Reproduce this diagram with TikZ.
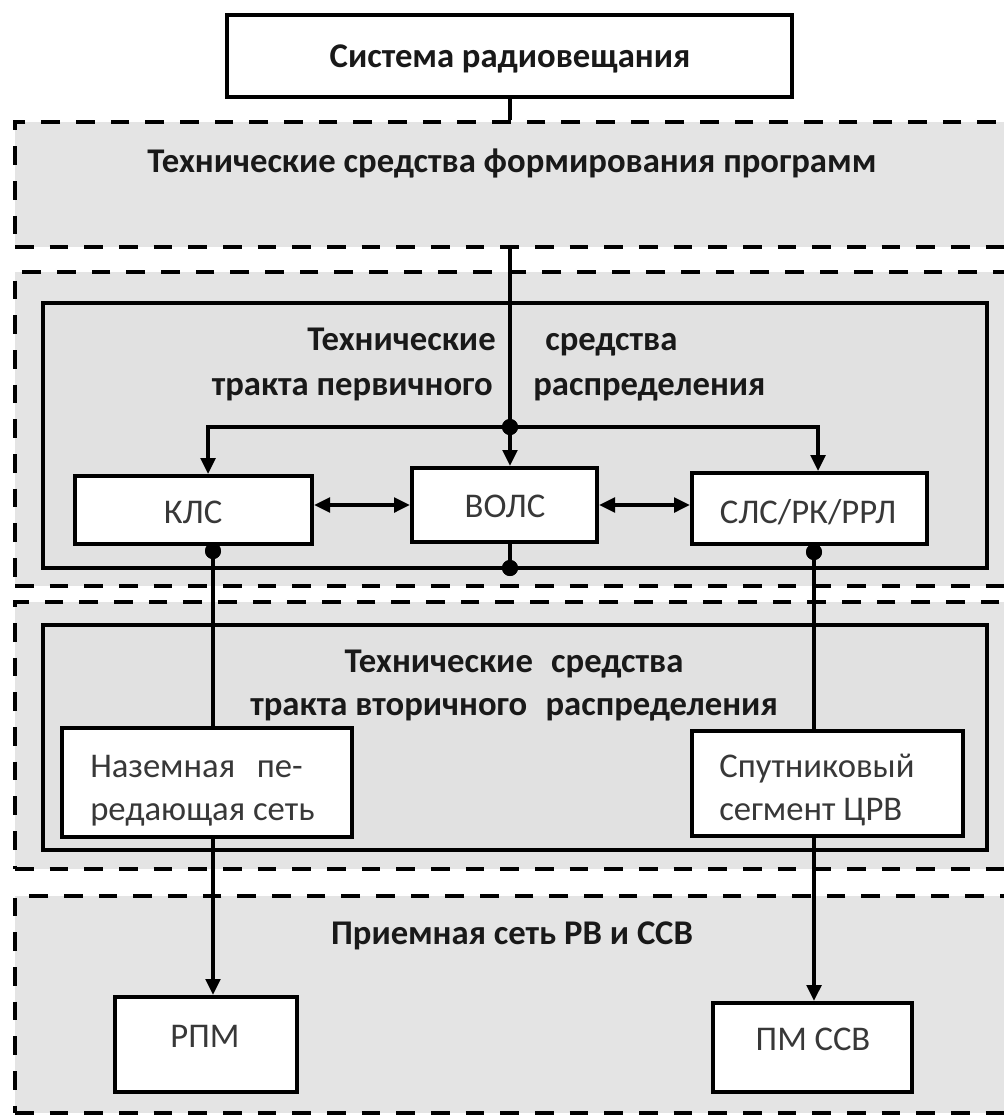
\documentclass[tikz,border=0pt]{standalone}
\usepackage{fontspec}
\setmainfont{Carlito}
\usetikzlibrary{arrows.meta,fit,shadows}
\definecolor{regiongray}{HTML}{E4E4E4}
\definecolor{innergray}{HTML}{E1E1E1}
\definecolor{txtgray}{HTML}{383838}
\begin{document}
\begin{tikzpicture}[x=0.75pt,y=-0.75pt,
  region/.style={draw=black, line width=3pt, dash pattern=on 14pt off 12pt, fill=regiongray, inner sep=0pt},
  innerbox/.style={draw=black, line width=3pt, fill=innergray, inner sep=0pt,
    drop shadow={shadow xshift=1.5pt, shadow yshift=-1.5pt, fill=black, opacity=0.25}},
  box/.style={draw=black, line width=3pt, fill=white, inner sep=0pt,
    drop shadow={shadow xshift=1.5pt, shadow yshift=-1.5pt, fill=black, opacity=0.25}},
  conn/.style={line width=2.6pt},
  arr/.style={conn, -{Triangle[length=12pt,width=11pt]}},
  darr/.style={conn, {Triangle[length=12pt,width=11pt]}-{Triangle[length=12pt,width=11pt]}},
  dot/.style={circle, fill=black, inner sep=0pt, minimum size=12pt},
  ttl/.style={font=\fontsize{26}{31}\selectfont\bfseries, text=black!90, inner sep=0pt, anchor=base},
  lbl/.style={font=\fontsize{26}{31}\selectfont, text=txtgray, inner sep=0pt, anchor=base},
]
\useasboundingbox (0,0) rectangle (1004,1115);
\clip (0,0) rectangle (1004,1115);
\fill[white] (0,0) rectangle (1004,1115);

% dashed regions
\node[region, fit={(15,122) (1015,247)}] (r1) {};
\node[region, fit={(15,272) (1015,586)}] (r2) {};
\node[region, fit={(15,602) (1015,869)}] (r3) {};
\node[region, fit={(15,896) (1015,1113)}] (r4) {};

% inner solid frames
\node[innerbox, fit={(43,303) (987,568)}] (f2) {};
\node[innerbox, fit={(43,625) (987,850)}] (f3) {};

% titles
\node[ttl] (t1) at (512,172) {Технические средства формирования программ};
\node[ttl, anchor=base east] (t2a) at (496,350) {Технические};
\node[ttl, anchor=base west] (t2b) at (545,350) {средства};
\node[ttl, anchor=base east] (t2c) at (493,395) {тракта первичного};
\node[ttl, anchor=base west] (t2d) at (533,395) {распределения};
\node[ttl] (t3a) at (514,672) {Технические\hspace{0.3em} средства};
\node[ttl] (t3b) at (514,715) {тракта вторичного\hspace{0.3em} распределения};
\node[ttl] (t4) at (512,944) {Приемная сеть РВ и ССВ};

% boxes
\node[box, fit={(227,15) (792,97)}] (top) {};
\node[box, fit={(75,476) (312,544)}] (klc) {};
\node[box, fit={(412,468) (597,542)}] (vols) {};
\node[box, fit={(692,473) (927,544)}] (sls) {};
\node[box, fit={(62,728) (352,837)}] (naz) {};
\node[box, fit={(692,731) (963,836)}] (sat) {};
\node[box, fit={(115,997) (297,1092)}] (rpm) {};
\node[box, fit={(713,1003) (912,1092)}] (pm) {};

% box texts
\node[ttl] (topt) at (510,67) {Система радиовещания};
\node[lbl] (klct) at (193,523) {КЛС};
\node[lbl] (volst) at (505,517) {ВОЛС};
\node[lbl] (slst) at (808,523) {СЛС/РК/РРЛ};
\node[lbl, anchor=base west] (nazt1) at (90,777) {Наземная\hspace{0.4em} пе-};
\node[lbl, anchor=base west] (nazt2) at (90,820) {редающая сеть};
\node[lbl, anchor=base west] (satt1) at (719,777) {Спутниковый};
\node[lbl, anchor=base west] (satt2) at (719,820) {сегмент ЦРВ};
\node[lbl] (rpmt) at (205,1047) {РПМ};
\node[lbl] (pmt) at (813,1050) {ПМ ССВ};

% junction points
\node[dot] (j) at (510,427) {};
\node[dot] (dk) at (213,551) {};
\node[dot] (dv) at (510,568) {};
\node[dot] (ds) at (814,552) {};

% connectors
\draw[conn] (top.south -| j) -- (r1.north -| j);
\draw[conn] (r1.south -| j) -- (j.center);
\draw[arr] (j.center) -- (vols.north -| j);
\draw[arr] (j.center) -| ([xshift=10.9pt]klc.north);
\draw[arr] (j.center) -| ([xshift=6.4pt]sls.north);
\draw[darr] (klc.east |- vols.west) -- (vols.west);
\draw[darr] (vols.east) -- (vols.east -| sls.west);
\draw[conn] (vols.south -| j) -- (dv.center);
\draw[conn] (klc.south -| dk) -- (dk.center) -- (naz.north -| dk);
\draw[conn] (sls.south -| ds) -- (ds.center) -- (sat.north -| ds);
\draw[arr] (naz.south -| dk) -- (rpm.north -| dk);
\draw[arr] (sat.south -| ds) -- (pm.north -| ds);

\node[dot] at (j) {};
\node[dot] at (dk) {};
\node[dot] at (dv) {};
\node[dot] at (ds) {};
\end{tikzpicture}
\end{document}
